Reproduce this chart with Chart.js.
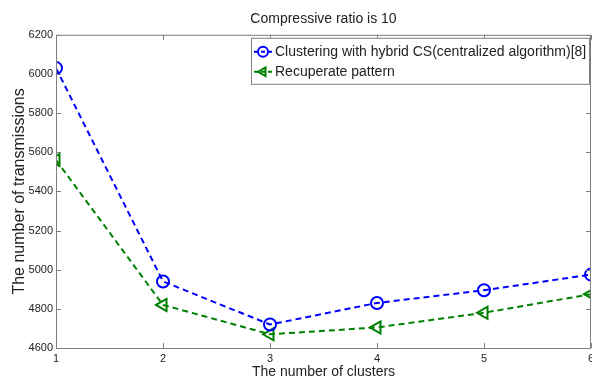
<!DOCTYPE html>
<html>
<head>
<meta charset="utf-8">
<script src="https://cdn.jsdelivr.net/npm/chart.js@4/dist/chart.umd.min.js"></script>
<style>
  html, body { margin: 0; padding: 0; background: #fff; }
  #wrap { width: 592px; height: 381px; }
</style>
</head>
<body>
<div id="wrap"><canvas id="chart"></canvas></div>
<script>
// data
const clusters = [1, 2, 3, 4, 5, 6];
const hybridCS = [6030, 4940, 4720, 4830, 4895, 4975];
const recuperate = [5560, 4820, 4670, 4705, 4780, 4875];
const yTicks = [4600, 4800, 5000, 5200, 5400, 5600, 5800, 6000, 6200];

const axisColor = '#7f7f7f';
const textColor = '#222';
const font = 'Liberation Sans, Arial, sans-serif';

// box frame + inward ticks on all four sides (matlab style)
const framePlugin = {
  id: 'frame',
  afterDraw(chart) {
    const { ctx, chartArea: a, scales } = chart;
    ctx.save();
    ctx.strokeStyle = axisColor;
    ctx.lineWidth = 1;
    ctx.strokeRect(a.left + 0.5, a.top + 0.5, a.right - a.left - 1, a.bottom - a.top);
    ctx.beginPath();
    scales.x.ticks.forEach((t, i) => {
      const x = Math.round(scales.x.getPixelForTick(i)) + 0.5;
      ctx.moveTo(x, a.bottom); ctx.lineTo(x, a.bottom - 5);
      ctx.moveTo(x, a.top); ctx.lineTo(x, a.top + 5);
    });
    scales.y.ticks.forEach((t, i) => {
      const y = Math.round(scales.y.getPixelForTick(i)) + 0.5;
      ctx.moveTo(a.left, y); ctx.lineTo(a.left + 5, y);
      ctx.moveTo(a.right, y); ctx.lineTo(a.right - 5, y);
    });
    ctx.stroke();
    ctx.restore();
  }
};

// legend box drawn inside the plot, top right
const legendBox = {
  id: 'legendBox',
  afterDraw(chart) {
    const { ctx, chartArea: a } = chart;
    const x0 = 251, y0 = a.top + 3, w = a.right - 2 - x0, h = 46;
    ctx.save();
    ctx.fillStyle = '#fff';
    ctx.fillRect(x0, y0, w, h);
    ctx.strokeStyle = axisColor;
    ctx.lineWidth = 1;
    ctx.strokeRect(x0 + 0.5, y0 + 0.5, w, h);
    chart.data.datasets.forEach((ds, i) => {
      const y = y0 + 14 + i * 20;
      ctx.strokeStyle = ds.borderColor;
      ctx.lineWidth = 2;
      ctx.setLineDash([4, 3]);
      ctx.beginPath();
      ctx.moveTo(x0 + 3, y); ctx.lineTo(x0 + 23, y);
      ctx.stroke();
      ctx.setLineDash([]);
      ctx.fillStyle = 'rgba(0,0,0,0)';
      Chart.helpers.drawPoint(ctx, {
        pointStyle: ds.pointStyle, rotation: ds.pointRotation || 0,
        radius: 5, borderWidth: 2
      }, x0 + 12, y);
      ctx.fillStyle = textColor;
      ctx.font = '14px ' + font;
      ctx.textBaseline = 'middle';
      ctx.fillText(ds.label, x0 + 24, y);
    });
    ctx.restore();
  }
};

new Chart(document.getElementById('chart'), {
  type: 'line',
  data: {
    labels: clusters,
    datasets: [
      {
        label: 'Clustering with hybrid CS(centralized algorithm)[8]',
        data: hybridCS,
        borderColor: '#0000ff',
        backgroundColor: 'rgba(0,0,0,0)',
        borderWidth: 2,
        borderDash: [6, 4],
        pointStyle: 'circle',
        pointRadius: 6,
        pointBorderWidth: 2,
        tension: 0
      },
      {
        label: 'Recuperate pattern',
        data: recuperate,
        borderColor: '#008000',
        backgroundColor: 'rgba(0,0,0,0)',
        borderWidth: 2,
        borderDash: [6, 4],
        pointStyle: 'triangle',
        pointRotation: -90,
        pointRadius: 7,
        pointBorderWidth: 2,
        tension: 0
      }
    ]
  },
  options: {
    responsive: true,
    maintainAspectRatio: false,
    animation: false,
    layout: { autoPadding: false, padding: { left: 0, right: 1, top: 0, bottom: 0 } },
    plugins: {
      legend: { display: false },
      tooltip: { enabled: false },
      title: {
        display: true,
        fullSize: false,
        text: 'Compressive ratio is 10',
        color: textColor,
        font: { family: font, size: 14, weight: 'normal' },
        padding: { top: 11, bottom: 7 }
      }
    },
    scales: {
      x: {
        type: 'linear',
        min: 1, max: 6,
        grid: { display: false, drawTicks: false },
        border: { display: false },
        ticks: { stepSize: 1, color: textColor, font: { family: font, size: 11 }, padding: 4 },
        title: { display: true, text: 'The number of clusters', color: textColor,
          font: { family: font, size: 14 }, padding: { top: 0, bottom: 0 } },
        afterFit(s) { s.height = 33; s.paddingLeft = 0; s.paddingRight = 0; }
      },
      y: {
        min: 4600, max: 6200,
        grid: { display: false, drawTicks: false },
        border: { display: false },
        afterBuildTicks(s) { s.ticks = yTicks.map(v => ({ value: v })); },
        ticks: { color: textColor, font: { family: font, size: 11 }, padding: 3,
          callback: v => String(v) },
        title: { display: true, text: 'The number of transmissions', color: textColor,
          font: { family: font, size: 16 }, padding: { top: 10, bottom: 2 } },
        afterFit(s) { s.width = 56; s.paddingTop = 0; s.paddingBottom = 0; }
      }
    }
  },
  plugins: [framePlugin, legendBox]
});
</script>
</body>
</html>
